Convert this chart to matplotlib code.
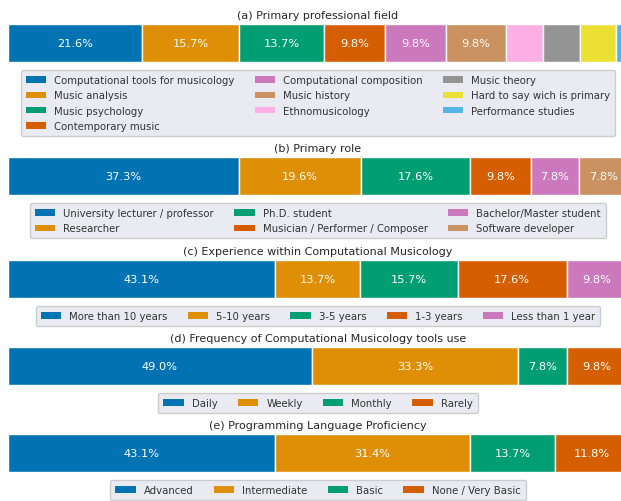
import matplotlib
matplotlib.use("Agg")
import matplotlib.pyplot as plt

colors = ["#0173B2", "#DE8F05", "#029E73", "#D55E00", "#CC78BC",
          "#CA9161", "#FBAFE4", "#949494", "#ECE133", "#56B4E9"]

title_a = "(a) Primary professional field"
labels_a = ["Computational tools for musicology", "Music analysis", "Music psychology",
            "Contemporary music", "Computational composition", "Music history",
            "Ethnomusicology", "Music theory", "Hard to say wich is primary",
            "Performance studies"]
values_a = [21.6, 15.7, 13.7, 9.8, 9.8, 9.8, 5.9, 5.9, 5.9, 2.0]

title_b = "(b) Primary role"
labels_b = ["University lecturer / professor", "Researcher", "Ph.D. student",
            "Musician / Performer / Composer", "Bachelor/Master student",
            "Software developer"]
values_b = [37.3, 19.6, 17.6, 9.8, 7.8, 7.8]

title_c = "(c) Experience within Computational Musicology"
labels_c = ["More than 10 years", "5-10 years", "3-5 years", "1-3 years", "Less than 1 year"]
values_c = [43.1, 13.7, 15.7, 17.6, 9.8]

title_d = "(d) Frequency of Computational Musicology tools use"
labels_d = ["Daily", "Weekly", "Monthly", "Rarely"]
values_d = [49.0, 33.3, 7.8, 9.8]

title_e = "(e) Programming Language Proficiency"
labels_e = ["Advanced", "Intermediate", "Basic", "None / Very Basic"]
values_e = [43.1, 31.4, 13.7, 11.8]

panels = [
    (title_a, labels_a, values_a, 3, 25, 63),
    (title_b, labels_b, values_b, 3, 158, 196),
    (title_c, labels_c, values_c, 5, 261, 299),
    (title_d, labels_d, values_d, 4, 348, 386),
    (title_e, labels_e, values_e, 4, 435, 473),
]

W, H = 621, 502
fig = plt.figure(figsize=(W / 100, H / 100), dpi=100)
fig.patch.set_facecolor("white")
text_color = "#333333"
fs_leg = 7.3
fs_title = 8.0
fs_lab = 8.2

for title, labels, values, ncol, top, bot in panels:
    ax = fig.add_axes([8 / W, 1 - bot / H, 620 / W, (bot - top) / H])
    left = 0
    for i, (lab, v) in enumerate(zip(labels, values)):
        ax.barh(0, v, left=left, height=1.0, color=colors[i], edgecolor="white",
                linewidth=1.0, label=lab)
        if v >= 7:
            ax.text(left + v / 2, 0, f"{v:.1f}%", ha="center", va="center",
                    color="white", fontsize=fs_lab)
        left += v
    ax.set_xlim(0, 100)
    ax.set_ylim(-0.5, 0.5)
    ax.axis("off")
    ax.set_title(title, fontsize=fs_title, color="#262626", pad=4)
    leg = ax.legend(loc="upper center", bbox_to_anchor=(0.5, -8 / (bot - top)),
                    ncol=ncol, fontsize=fs_leg, frameon=True, borderaxespad=0,
                    handleheight=0.6, handlelength=2.0, columnspacing=2.0,
                    labelspacing=0.52, borderpad=0.5)
    for h in leg.legend_handles:
        h.set_edgecolor("none")
    frame = leg.get_frame()
    frame.set_facecolor("#EAEAF2")
    frame.set_edgecolor("#CCCCCC")
    frame.set_alpha(1)
    for t in leg.get_texts():
        t.set_color(text_color)

fig.savefig("out.png", dpi=100)
